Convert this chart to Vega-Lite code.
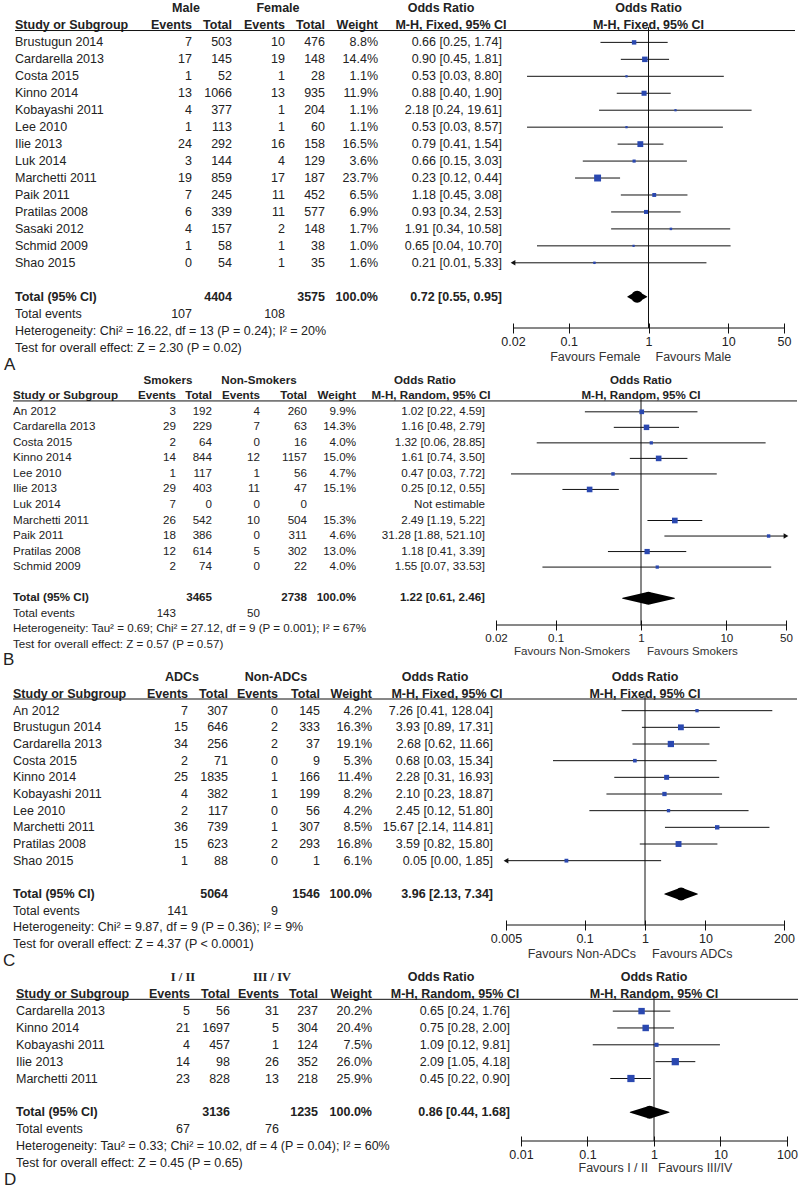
{
"$schema": "https://vega.github.io/schema/vega-lite/v6.json",
"padding": 0,
"background": "white",
"spacing": 0,
"config": {
  "view": {"stroke": null},
  "text": {"font": "Liberation Sans", "color": "#222", "baseline": "middle", "fontSize": 12.5},
  "axis": {"domainColor": "#111", "tickColor": "#111", "labelColor": "#222", "labelFont": "Liberation Sans", "tickSize": 10, "labelPadding": 2, "grid": false, "domainWidth": 1, "tickWidth": 1}
},
"datasets": {
  "A": [
    {"study":"Brustugun 2014","e1":7,"n1":503,"e2":10,"n2":476,"w":0.088,"ci":"0.66 [0.25, 1.74]","or":0.66,"lo":0.25,"hi":1.74,"part":"study"},
    {"study":"Cardarella 2013","e1":17,"n1":145,"e2":19,"n2":148,"w":0.144,"ci":"0.90 [0.45, 1.81]","or":0.9,"lo":0.45,"hi":1.81,"part":"study"},
    {"study":"Costa 2015","e1":1,"n1":52,"e2":1,"n2":28,"w":0.011,"ci":"0.53 [0.03, 8.80]","or":0.53,"lo":0.03,"hi":8.8,"part":"study"},
    {"study":"Kinno 2014","e1":13,"n1":1066,"e2":13,"n2":935,"w":0.119,"ci":"0.88 [0.40, 1.90]","or":0.88,"lo":0.4,"hi":1.9,"part":"study"},
    {"study":"Kobayashi 2011","e1":4,"n1":377,"e2":1,"n2":204,"w":0.011,"ci":"2.18 [0.24, 19.61]","or":2.18,"lo":0.24,"hi":19.61,"part":"study"},
    {"study":"Lee 2010","e1":1,"n1":113,"e2":1,"n2":60,"w":0.011,"ci":"0.53 [0.03, 8.57]","or":0.53,"lo":0.03,"hi":8.57,"part":"study"},
    {"study":"Ilie 2013","e1":24,"n1":292,"e2":16,"n2":158,"w":0.165,"ci":"0.79 [0.41, 1.54]","or":0.79,"lo":0.41,"hi":1.54,"part":"study"},
    {"study":"Luk 2014","e1":3,"n1":144,"e2":4,"n2":129,"w":0.036,"ci":"0.66 [0.15, 3.03]","or":0.66,"lo":0.15,"hi":3.03,"part":"study"},
    {"study":"Marchetti 2011","e1":19,"n1":859,"e2":17,"n2":187,"w":0.237,"ci":"0.23 [0.12, 0.44]","or":0.23,"lo":0.12,"hi":0.44,"part":"study"},
    {"study":"Paik 2011","e1":7,"n1":245,"e2":11,"n2":452,"w":0.065,"ci":"1.18 [0.45, 3.08]","or":1.18,"lo":0.45,"hi":3.08,"part":"study"},
    {"study":"Pratilas 2008","e1":6,"n1":339,"e2":11,"n2":577,"w":0.069,"ci":"0.93 [0.34, 2.53]","or":0.93,"lo":0.34,"hi":2.53,"part":"study"},
    {"study":"Sasaki 2012","e1":4,"n1":157,"e2":2,"n2":148,"w":0.017,"ci":"1.91 [0.34, 10.58]","or":1.91,"lo":0.34,"hi":10.58,"part":"study"},
    {"study":"Schmid 2009","e1":1,"n1":58,"e2":1,"n2":38,"w":0.01,"ci":"0.65 [0.04, 10.70]","or":0.65,"lo":0.04,"hi":10.7,"part":"study"},
    {"study":"Shao 2015","e1":0,"n1":54,"e2":1,"n2":35,"w":0.016,"ci":"0.21 [0.01, 5.33]","or":0.21,"lo":0.01,"hi":5.33,"part":"study"},
    {"study":"Total (95% CI)","n1":4404,"n2":3575,"w":1,"ci":"0.72 [0.55, 0.95]","or":0.72,"lo":0.55,"hi":0.95,"part":"total"},
    {"study":"Total events","e1":107,"e2":108,"part":"events"},
    {"study":"Heterogeneity: Chi² = 16.22, df = 13 (P = 0.24); I² = 20%","part":"note"},
    {"study":"Test for overall effect: Z = 2.30 (P = 0.02)","part":"note"}
  ],
  "B": [
    {"study":"An 2012","e1":3,"n1":192,"e2":4,"n2":260,"w":0.099,"ci":"1.02 [0.22, 4.59]","or":1.02,"lo":0.22,"hi":4.59,"part":"study"},
    {"study":"Cardarella 2013","e1":29,"n1":229,"e2":7,"n2":63,"w":0.143,"ci":"1.16 [0.48, 2.79]","or":1.16,"lo":0.48,"hi":2.79,"part":"study"},
    {"study":"Costa 2015","e1":2,"n1":64,"e2":0,"n2":16,"w":0.04,"ci":"1.32 [0.06, 28.85]","or":1.32,"lo":0.06,"hi":28.85,"part":"study"},
    {"study":"Kinno 2014","e1":14,"n1":844,"e2":12,"n2":1157,"w":0.15,"ci":"1.61 [0.74, 3.50]","or":1.61,"lo":0.74,"hi":3.5,"part":"study"},
    {"study":"Lee 2010","e1":1,"n1":117,"e2":1,"n2":56,"w":0.047,"ci":"0.47 [0.03, 7.72]","or":0.47,"lo":0.03,"hi":7.72,"part":"study"},
    {"study":"Ilie 2013","e1":29,"n1":403,"e2":11,"n2":47,"w":0.151,"ci":"0.25 [0.12, 0.55]","or":0.25,"lo":0.12,"hi":0.55,"part":"study"},
    {"study":"Luk 2014","e1":7,"n1":0,"e2":0,"n2":0,"ci":"Not estimable","part":"study"},
    {"study":"Marchetti 2011","e1":26,"n1":542,"e2":10,"n2":504,"w":0.153,"ci":"2.49 [1.19, 5.22]","or":2.49,"lo":1.19,"hi":5.22,"part":"study"},
    {"study":"Paik 2011","e1":18,"n1":386,"e2":0,"n2":311,"w":0.046,"ci":"31.28 [1.88, 521.10]","or":31.28,"lo":1.88,"hi":521.1,"part":"study"},
    {"study":"Pratilas 2008","e1":12,"n1":614,"e2":5,"n2":302,"w":0.13,"ci":"1.18 [0.41, 3.39]","or":1.18,"lo":0.41,"hi":3.39,"part":"study"},
    {"study":"Schmid 2009","e1":2,"n1":74,"e2":0,"n2":22,"w":0.04,"ci":"1.55 [0.07, 33.53]","or":1.55,"lo":0.07,"hi":33.53,"part":"study"},
    {"study":"Total (95% CI)","n1":3465,"n2":2738,"w":1,"ci":"1.22 [0.61, 2.46]","or":1.22,"lo":0.61,"hi":2.46,"part":"total"},
    {"study":"Total events","e1":143,"e2":50,"part":"events"},
    {"study":"Heterogeneity: Tau² = 0.69; Chi² = 27.12, df = 9 (P = 0.001); I² = 67%","part":"note"},
    {"study":"Test for overall effect: Z = 0.57 (P = 0.57)","part":"note"}
  ],
  "C": [
    {"study":"An 2012","e1":7,"n1":307,"e2":0,"n2":145,"w":0.042,"ci":"7.26 [0.41, 128.04]","or":7.26,"lo":0.41,"hi":128.04,"part":"study"},
    {"study":"Brustugun 2014","e1":15,"n1":646,"e2":2,"n2":333,"w":0.163,"ci":"3.93 [0.89, 17.31]","or":3.93,"lo":0.89,"hi":17.31,"part":"study"},
    {"study":"Cardarella 2013","e1":34,"n1":256,"e2":2,"n2":37,"w":0.191,"ci":"2.68 [0.62, 11.66]","or":2.68,"lo":0.62,"hi":11.66,"part":"study"},
    {"study":"Costa 2015","e1":2,"n1":71,"e2":0,"n2":9,"w":0.053,"ci":"0.68 [0.03, 15.34]","or":0.68,"lo":0.03,"hi":15.34,"part":"study"},
    {"study":"Kinno 2014","e1":25,"n1":1835,"e2":1,"n2":166,"w":0.114,"ci":"2.28 [0.31, 16.93]","or":2.28,"lo":0.31,"hi":16.93,"part":"study"},
    {"study":"Kobayashi 2011","e1":4,"n1":382,"e2":1,"n2":199,"w":0.082,"ci":"2.10 [0.23, 18.87]","or":2.1,"lo":0.23,"hi":18.87,"part":"study"},
    {"study":"Lee 2010","e1":2,"n1":117,"e2":0,"n2":56,"w":0.042,"ci":"2.45 [0.12, 51.80]","or":2.45,"lo":0.12,"hi":51.8,"part":"study"},
    {"study":"Marchetti 2011","e1":36,"n1":739,"e2":1,"n2":307,"w":0.085,"ci":"15.67 [2.14, 114.81]","or":15.67,"lo":2.14,"hi":114.81,"part":"study"},
    {"study":"Pratilas 2008","e1":15,"n1":623,"e2":2,"n2":293,"w":0.168,"ci":"3.59 [0.82, 15.80]","or":3.59,"lo":0.82,"hi":15.8,"part":"study"},
    {"study":"Shao 2015","e1":1,"n1":88,"e2":0,"n2":1,"w":0.061,"ci":"0.05 [0.00, 1.85]","or":0.05,"lo":0.002,"hi":1.85,"part":"study"},
    {"study":"Total (95% CI)","n1":5064,"n2":1546,"w":1,"ci":"3.96 [2.13, 7.34]","or":3.96,"lo":2.13,"hi":7.34,"part":"total"},
    {"study":"Total events","e1":141,"e2":9,"part":"events"},
    {"study":"Heterogeneity: Chi² = 9.87, df = 9 (P = 0.36); I² = 9%","part":"note"},
    {"study":"Test for overall effect: Z = 4.37 (P < 0.0001)","part":"note"}
  ],
  "D": [
    {"study":"Cardarella 2013","e1":5,"n1":56,"e2":31,"n2":237,"w":0.202,"ci":"0.65 [0.24, 1.76]","or":0.65,"lo":0.24,"hi":1.76,"part":"study"},
    {"study":"Kinno 2014","e1":21,"n1":1697,"e2":5,"n2":304,"w":0.204,"ci":"0.75 [0.28, 2.00]","or":0.75,"lo":0.28,"hi":2.0,"part":"study"},
    {"study":"Kobayashi 2011","e1":4,"n1":457,"e2":1,"n2":124,"w":0.075,"ci":"1.09 [0.12, 9.81]","or":1.09,"lo":0.12,"hi":9.81,"part":"study"},
    {"study":"Ilie 2013","e1":14,"n1":98,"e2":26,"n2":352,"w":0.26,"ci":"2.09 [1.05, 4.18]","or":2.09,"lo":1.05,"hi":4.18,"part":"study"},
    {"study":"Marchetti 2011","e1":23,"n1":828,"e2":13,"n2":218,"w":0.259,"ci":"0.45 [0.22, 0.90]","or":0.45,"lo":0.22,"hi":0.9,"part":"study"},
    {"study":"Total (95% CI)","n1":3136,"n2":1235,"w":1,"ci":"0.86 [0.44, 1.68]","or":0.86,"lo":0.44,"hi":1.68,"part":"total"},
    {"study":"Total events","e1":67,"e2":76,"part":"events"},
    {"study":"Heterogeneity: Tau² = 0.33; Chi² = 10.02, df = 4 (P = 0.04); I² = 60%","part":"note"},
    {"study":"Test for overall effect: Z = 0.45 (P = 0.65)","part":"note"}
  ]
},
"vconcat": [
{
 "hconcat": [
  {
   "width": 513, "height": 373,
   "data": {"name": "A"},
   "encoding": {"y": {"field": "study", "type": "nominal", "axis": null, "scale": {"type": "band", "round": false, "paddingInner": 0, "paddingOuter": 0, "domain": ["_grp","_hdr","Brustugun 2014","Cardarella 2013","Costa 2015","Kinno 2014","Kobayashi 2011","Lee 2010","Ilie 2013","Luk 2014","Marchetti 2011","Paik 2011","Pratilas 2008","Sasaki 2012","Schmid 2009","Shao 2015","_gap","Total (95% CI)","Total events","Heterogeneity: Chi² = 16.22, df = 13 (P = 0.24); I² = 20%","Test for overall effect: Z = 2.30 (P = 0.02)","_label"]}}},
   "layer": [
    {"mark": {"type": "text", "align": "left", "fontWeight": {"expr": "datum.part === 'total' ? 'bold' : 'normal'"}}, "encoding": {"x": {"datum": 15, "type": "quantitative", "axis": null, "scale": {"domain": [0, 513], "nice": false, "zero": false}}, "text": {"field": "study", "type": "nominal"}}},
    {"transform": [{"filter": "isValid(datum.e1)"}], "mark": {"type": "text", "align": "right"}, "encoding": {"x": {"datum": 192, "type": "quantitative", "axis": null}, "text": {"field": "e1", "type": "nominal"}}},
    {"transform": [{"filter": "isValid(datum.n1)"}], "mark": {"type": "text", "align": "right", "fontWeight": {"expr": "datum.part === 'total' ? 'bold' : 'normal'"}}, "encoding": {"x": {"datum": 232, "type": "quantitative", "axis": null}, "text": {"field": "n1", "type": "nominal"}}},
    {"transform": [{"filter": "isValid(datum.e2)"}], "mark": {"type": "text", "align": "right"}, "encoding": {"x": {"datum": 285, "type": "quantitative", "axis": null}, "text": {"field": "e2", "type": "nominal"}}},
    {"transform": [{"filter": "isValid(datum.n2)"}], "mark": {"type": "text", "align": "right", "fontWeight": {"expr": "datum.part === 'total' ? 'bold' : 'normal'"}}, "encoding": {"x": {"datum": 325, "type": "quantitative", "axis": null}, "text": {"field": "n2", "type": "nominal"}}},
    {"transform": [{"filter": "isValid(datum.w)"}], "mark": {"type": "text", "align": "right", "fontWeight": {"expr": "datum.part === 'total' ? 'bold' : 'normal'"}}, "encoding": {"x": {"datum": 378, "type": "quantitative", "axis": null}, "text": {"field": "w", "type": "quantitative", "format": ".1%"}}},
    {"transform": [{"filter": "isValid(datum.ci)"}], "mark": {"type": "text", "align": "right", "fontWeight": {"expr": "datum.part === 'total' ? 'bold' : 'normal'"}}, "encoding": {"x": {"datum": 502, "type": "quantitative", "axis": null}, "text": {"field": "ci", "type": "nominal"}}},
    {"data": {"values": [{}]}, "mark": {"type": "text", "align": "center", "fontWeight": "bold"}, "encoding": {"x": {"datum": 186, "type": "quantitative", "axis": null}, "y": {"datum": "_grp", "type": "nominal", "axis": null}, "text": {"value": "Male"}}},
    {"data": {"values": [{}]}, "mark": {"type": "text", "align": "center", "fontWeight": "bold"}, "encoding": {"x": {"datum": 278, "type": "quantitative", "axis": null}, "y": {"datum": "_grp", "type": "nominal", "axis": null}, "text": {"value": "Female"}}},
    {"data": {"values": [{}]}, "mark": {"type": "text", "align": "center", "fontWeight": "bold"}, "encoding": {"x": {"datum": 441, "type": "quantitative", "axis": null}, "y": {"datum": "_grp", "type": "nominal", "axis": null}, "text": {"value": "Odds Ratio"}}},
    {"data": {"values": [{}]}, "mark": {"type": "text", "align": "left", "fontWeight": "bold"}, "encoding": {"x": {"datum": 15, "type": "quantitative", "axis": null}, "y": {"datum": "_hdr", "type": "nominal", "axis": null}, "text": {"value": "Study or Subgroup"}}},
    {"data": {"values": [{}]}, "mark": {"type": "text", "align": "right", "fontWeight": "bold"}, "encoding": {"x": {"datum": 192, "type": "quantitative", "axis": null}, "y": {"datum": "_hdr", "type": "nominal", "axis": null}, "text": {"value": "Events"}}},
    {"data": {"values": [{}]}, "mark": {"type": "text", "align": "right", "fontWeight": "bold"}, "encoding": {"x": {"datum": 232, "type": "quantitative", "axis": null}, "y": {"datum": "_hdr", "type": "nominal", "axis": null}, "text": {"value": "Total"}}},
    {"data": {"values": [{}]}, "mark": {"type": "text", "align": "right", "fontWeight": "bold"}, "encoding": {"x": {"datum": 285, "type": "quantitative", "axis": null}, "y": {"datum": "_hdr", "type": "nominal", "axis": null}, "text": {"value": "Events"}}},
    {"data": {"values": [{}]}, "mark": {"type": "text", "align": "right", "fontWeight": "bold"}, "encoding": {"x": {"datum": 325, "type": "quantitative", "axis": null}, "y": {"datum": "_hdr", "type": "nominal", "axis": null}, "text": {"value": "Total"}}},
    {"data": {"values": [{}]}, "mark": {"type": "text", "align": "right", "fontWeight": "bold"}, "encoding": {"x": {"datum": 378, "type": "quantitative", "axis": null}, "y": {"datum": "_hdr", "type": "nominal", "axis": null}, "text": {"value": "Weight"}}},
    {"data": {"values": [{}]}, "mark": {"type": "text", "align": "center", "fontWeight": "bold"}, "encoding": {"x": {"datum": 451, "type": "quantitative", "axis": null}, "y": {"datum": "_hdr", "type": "nominal", "axis": null}, "text": {"value": "M-H, Fixed, 95% CI"}}},
    {"data": {"values": [{}]}, "mark": {"type": "rule", "color": "#111", "strokeWidth": 1}, "encoding": {"x": {"datum": 15, "type": "quantitative", "axis": null}, "x2": {"datum": 795}, "y": {"datum": "_hdr", "type": "nominal", "bandPosition": 0.8, "axis": null}}},
    {"data": {"values": [{}]}, "mark": {"type": "text", "align": "left", "fontSize": 17}, "encoding": {"x": {"datum": 4, "type": "quantitative", "axis": null}, "y": {"datum": "_label", "type": "nominal", "axis": null}, "text": {"value": "A"}}}
   ]
  },
  {
   "width": 271, "height": 328,
   "data": {"name": "A"},
   "transform": [{"filter": "datum.part === 'study' || datum.part === 'total'"}],
   "encoding": {"y": {"field": "study", "type": "nominal", "axis": null, "scale": {"type": "band", "round": false, "paddingInner": 0, "paddingOuter": 0.6725, "align": 0, "domain": ["_grp","_hdr","Brustugun 2014","Cardarella 2013","Costa 2015","Kinno 2014","Kobayashi 2011","Lee 2010","Ilie 2013","Luk 2014","Marchetti 2011","Paik 2011","Pratilas 2008","Sasaki 2012","Schmid 2009","Shao 2015","_gap","Total (95% CI)"]}}},
   "layer": [
    {"transform": [{"filter": "datum.part === 'study' && isValid(datum.lo)"}], "mark": {"type": "rule", "color": "#111"}, "encoding": {"x": {"field": "lo", "type": "quantitative", "scale": {"type": "log", "domain": [0.02, 50], "nice": false, "clamp": true}, "axis": {"values": [0.02, 0.1, 1, 10, 50], "format": "~g", "title": null, "orient": "bottom", "offset": -5, "domain": false, "labelFontSize": 12.5, "labelFlush": false, "labelOverlap": false}}, "x2": {"field": "hi"}}},
    {"data": {"values": [{}]}, "mark": {"type": "rule", "color": "#111"}, "encoding": {"x": {"datum": 0.02, "type": "quantitative", "scale": {"type": "log", "domain": [0.02, 50], "nice": false, "clamp": true}, "axis": {"title": null}}, "x2": {"datum": 50}, "y": {"value": "height"}}},
    {"data": {"values": [{}]}, "mark": {"type": "rule", "color": "#111"}, "encoding": {"x": {"datum": 1, "type": "quantitative", "scale": {"type": "log", "domain": [0.02, 50], "nice": false, "clamp": true}, "axis": {"title": null}}, "y": {"datum": "_hdr", "type": "nominal", "bandPosition": 0.6, "axis": null}, "y2": {"value": "height"}}},
    {"transform": [{"filter": "datum.part === 'study' && isValid(datum.or)"}], "mark": {"type": "point", "shape": "square", "filled": true, "color": "#2a48b0", "opacity": 1}, "encoding": {"x": {"field": "or", "type": "quantitative", "scale": {"type": "log", "domain": [0.02, 50], "nice": false, "clamp": true}, "axis": {"title": null}}, "size": {"field": "w", "type": "quantitative", "scale": {"domain": [0, 0.3], "range": [3, 60]}, "legend": null}}},
    {"transform": [{"filter": "datum.part === 'study' && datum.lo < 0.02"}], "mark": {"type": "point", "shape": "triangle-left", "filled": true, "color": "#111", "opacity": 1, "size": 30}, "encoding": {"x": {"field": "lo", "type": "quantitative", "scale": {"type": "log", "domain": [0.02, 50], "nice": false, "clamp": true}, "axis": {"title": null}}}},
    {"transform": [{"filter": "datum.part === 'total'"}, {"fold": ["lo", "or", "hi"], "as": ["k", "v"]}], "mark": {"type": "trail", "color": "#000"}, "encoding": {"x": {"field": "v", "type": "quantitative", "scale": {"type": "log", "domain": [0.02, 50], "nice": false, "clamp": true}, "axis": {"title": null}}, "size": {"field": "k", "type": "ordinal", "scale": {"type": "ordinal", "domain": ["lo", "or", "hi"], "range": [0, 12, 0]}, "legend": null}}},
    {"data": {"values": [{}]}, "mark": {"type": "text", "align": "center", "fontWeight": "bold"}, "encoding": {"x": {"datum": 1, "type": "quantitative", "scale": {"type": "log", "domain": [0.02, 50], "nice": false, "clamp": true}, "axis": {"title": null}}, "y": {"datum": "_grp", "type": "nominal", "axis": null}, "text": {"value": "Odds Ratio"}}},
    {"data": {"values": [{}]}, "mark": {"type": "text", "align": "center", "fontWeight": "bold"}, "encoding": {"x": {"datum": 1, "type": "quantitative", "scale": {"type": "log", "domain": [0.02, 50], "nice": false, "clamp": true}, "axis": {"title": null}}, "y": {"datum": "_hdr", "type": "nominal", "axis": null}, "text": {"value": "M-H, Fixed, 95% CI"}}},
    {"data": {"values": [{}]}, "mark": {"type": "text", "align": "right", "dx": -8, "dy": 29, "color": "#333"}, "encoding": {"x": {"datum": 1, "type": "quantitative", "scale": {"type": "log", "domain": [0.02, 50], "nice": false, "clamp": true}, "axis": {"title": null}}, "y": {"value": "height"}, "text": {"value": "Favours Female"}}},
    {"data": {"values": [{}]}, "mark": {"type": "text", "align": "left", "dx": 7, "dy": 29, "color": "#333"}, "encoding": {"x": {"datum": 1, "type": "quantitative", "scale": {"type": "log", "domain": [0.02, 50], "nice": false, "clamp": true}, "axis": {"title": null}}, "y": {"value": "height"}, "text": {"value": "Favours Male"}}}
   ]
  }
 ],
 "spacing": 0,
 "bounds": "flush"
},
{
 "hconcat": [
  {
   "width": 496, "height": 295,
   "data": {"name": "B"},
   "encoding": {"y": {"field": "study", "type": "nominal", "axis": null, "scale": {"type": "band", "round": false, "paddingInner": 0, "paddingOuter": 0, "domain": ["_grp","_hdr","An 2012","Cardarella 2013","Costa 2015","Kinno 2014","Lee 2010","Ilie 2013","Luk 2014","Marchetti 2011","Paik 2011","Pratilas 2008","Schmid 2009","_gap","Total (95% CI)","Total events","Heterogeneity: Tau² = 0.69; Chi² = 27.12, df = 9 (P = 0.001); I² = 67%","Test for overall effect: Z = 0.57 (P = 0.57)","_label"]}}},
   "layer": [
    {"mark": {"type": "text", "align": "left", "fontSize": 11.6, "fontWeight": {"expr": "datum.part === 'total' ? 'bold' : 'normal'"}}, "encoding": {"x": {"datum": 13, "type": "quantitative", "axis": null, "scale": {"domain": [0, 496], "nice": false, "zero": false}}, "text": {"field": "study", "type": "nominal"}}},
    {"transform": [{"filter": "isValid(datum.e1)"}], "mark": {"type": "text", "align": "right", "fontSize": 11.6}, "encoding": {"x": {"datum": 176, "type": "quantitative", "axis": null}, "text": {"field": "e1", "type": "nominal"}}},
    {"transform": [{"filter": "isValid(datum.n1)"}], "mark": {"type": "text", "align": "right", "fontSize": 11.6, "fontWeight": {"expr": "datum.part === 'total' ? 'bold' : 'normal'"}}, "encoding": {"x": {"datum": 212, "type": "quantitative", "axis": null}, "text": {"field": "n1", "type": "nominal"}}},
    {"transform": [{"filter": "isValid(datum.e2)"}], "mark": {"type": "text", "align": "right", "fontSize": 11.6}, "encoding": {"x": {"datum": 260, "type": "quantitative", "axis": null}, "text": {"field": "e2", "type": "nominal"}}},
    {"transform": [{"filter": "isValid(datum.n2)"}], "mark": {"type": "text", "align": "right", "fontSize": 11.6, "fontWeight": {"expr": "datum.part === 'total' ? 'bold' : 'normal'"}}, "encoding": {"x": {"datum": 307, "type": "quantitative", "axis": null}, "text": {"field": "n2", "type": "nominal"}}},
    {"transform": [{"filter": "isValid(datum.w)"}], "mark": {"type": "text", "align": "right", "fontSize": 11.6, "fontWeight": {"expr": "datum.part === 'total' ? 'bold' : 'normal'"}}, "encoding": {"x": {"datum": 356, "type": "quantitative", "axis": null}, "text": {"field": "w", "type": "quantitative", "format": ".1%"}}},
    {"transform": [{"filter": "isValid(datum.ci)"}], "mark": {"type": "text", "align": "right", "fontSize": 11.6, "fontWeight": {"expr": "datum.part === 'total' ? 'bold' : 'normal'"}}, "encoding": {"x": {"datum": 485, "type": "quantitative", "axis": null}, "text": {"field": "ci", "type": "nominal"}}},
    {"data": {"values": [{}]}, "mark": {"type": "text", "align": "center", "fontWeight": "bold", "fontSize": 11.6}, "encoding": {"x": {"datum": 168, "type": "quantitative", "axis": null}, "y": {"datum": "_grp", "type": "nominal", "axis": null}, "text": {"value": "Smokers"}}},
    {"data": {"values": [{}]}, "mark": {"type": "text", "align": "center", "fontWeight": "bold", "fontSize": 11.6}, "encoding": {"x": {"datum": 259, "type": "quantitative", "axis": null}, "y": {"datum": "_grp", "type": "nominal", "axis": null}, "text": {"value": "Non-Smokers"}}},
    {"data": {"values": [{}]}, "mark": {"type": "text", "align": "center", "fontWeight": "bold", "fontSize": 11.6}, "encoding": {"x": {"datum": 425, "type": "quantitative", "axis": null}, "y": {"datum": "_grp", "type": "nominal", "axis": null}, "text": {"value": "Odds Ratio"}}},
    {"data": {"values": [{}]}, "mark": {"type": "text", "align": "left", "fontWeight": "bold", "fontSize": 11.6}, "encoding": {"x": {"datum": 13, "type": "quantitative", "axis": null}, "y": {"datum": "_hdr", "type": "nominal", "axis": null}, "text": {"value": "Study or Subgroup"}}},
    {"data": {"values": [{}]}, "mark": {"type": "text", "align": "right", "fontWeight": "bold", "fontSize": 11.6}, "encoding": {"x": {"datum": 176, "type": "quantitative", "axis": null}, "y": {"datum": "_hdr", "type": "nominal", "axis": null}, "text": {"value": "Events"}}},
    {"data": {"values": [{}]}, "mark": {"type": "text", "align": "right", "fontWeight": "bold", "fontSize": 11.6}, "encoding": {"x": {"datum": 212, "type": "quantitative", "axis": null}, "y": {"datum": "_hdr", "type": "nominal", "axis": null}, "text": {"value": "Total"}}},
    {"data": {"values": [{}]}, "mark": {"type": "text", "align": "right", "fontWeight": "bold", "fontSize": 11.6}, "encoding": {"x": {"datum": 260, "type": "quantitative", "axis": null}, "y": {"datum": "_hdr", "type": "nominal", "axis": null}, "text": {"value": "Events"}}},
    {"data": {"values": [{}]}, "mark": {"type": "text", "align": "right", "fontWeight": "bold", "fontSize": 11.6}, "encoding": {"x": {"datum": 307, "type": "quantitative", "axis": null}, "y": {"datum": "_hdr", "type": "nominal", "axis": null}, "text": {"value": "Total"}}},
    {"data": {"values": [{}]}, "mark": {"type": "text", "align": "right", "fontWeight": "bold", "fontSize": 11.6}, "encoding": {"x": {"datum": 356, "type": "quantitative", "axis": null}, "y": {"datum": "_hdr", "type": "nominal", "axis": null}, "text": {"value": "Weight"}}},
    {"data": {"values": [{}]}, "mark": {"type": "text", "align": "center", "fontWeight": "bold", "fontSize": 11.6}, "encoding": {"x": {"datum": 431, "type": "quantitative", "axis": null}, "y": {"datum": "_hdr", "type": "nominal", "axis": null}, "text": {"value": "M-H, Random, 95% CI"}}},
    {"data": {"values": [{}]}, "mark": {"type": "rule", "color": "#111", "strokeWidth": 1}, "encoding": {"x": {"datum": 13, "type": "quantitative", "axis": null}, "x2": {"datum": 797}, "y": {"datum": "_hdr", "type": "nominal", "bandPosition": 0.8, "axis": null}}},
    {"data": {"values": [{}]}, "mark": {"type": "text", "align": "left", "fontSize": 17}, "encoding": {"x": {"datum": 3, "type": "quantitative", "axis": null}, "y": {"datum": "_label", "type": "nominal", "axis": null}, "text": {"value": "B"}}}
   ]
  },
  {
   "width": 290, "height": 252,
   "data": {"name": "B"},
   "transform": [{"filter": "datum.part === 'study' || datum.part === 'total'"}],
   "encoding": {"y": {"field": "study", "type": "nominal", "axis": null, "scale": {"type": "band", "round": false, "paddingInner": 0, "paddingOuter": 0.615, "align": 0, "domain": ["_grp","_hdr","An 2012","Cardarella 2013","Costa 2015","Kinno 2014","Lee 2010","Ilie 2013","Luk 2014","Marchetti 2011","Paik 2011","Pratilas 2008","Schmid 2009","_gap","Total (95% CI)"]}}},
   "layer": [
    {"transform": [{"filter": "datum.part === 'study' && isValid(datum.lo)"}], "mark": {"type": "rule", "color": "#111"}, "encoding": {"x": {"field": "lo", "type": "quantitative", "scale": {"type": "log", "domain": [0.02, 50], "nice": false, "clamp": true}, "axis": {"values": [0.02, 0.1, 1, 10, 50], "format": "~g", "title": null, "orient": "bottom", "offset": -5, "domain": false, "labelFontSize": 11.6, "labelFlush": false, "labelOverlap": false}}, "x2": {"field": "hi"}}},
    {"data": {"values": [{}]}, "mark": {"type": "rule", "color": "#111"}, "encoding": {"x": {"datum": 0.02, "type": "quantitative", "scale": {"type": "log", "domain": [0.02, 50], "nice": false, "clamp": true}, "axis": {"title": null}}, "x2": {"datum": 50}, "y": {"value": "height"}}},
    {"data": {"values": [{}]}, "mark": {"type": "rule", "color": "#111"}, "encoding": {"x": {"datum": 1, "type": "quantitative", "scale": {"type": "log", "domain": [0.02, 50], "nice": false, "clamp": true}, "axis": {"title": null}}, "y": {"datum": "_hdr", "type": "nominal", "bandPosition": 0.6, "axis": null}, "y2": {"value": "height"}}},
    {"transform": [{"filter": "datum.part === 'study' && isValid(datum.or)"}], "mark": {"type": "point", "shape": "square", "filled": true, "color": "#2a48b0", "opacity": 1}, "encoding": {"x": {"field": "or", "type": "quantitative", "scale": {"type": "log", "domain": [0.02, 50], "nice": false, "clamp": true}, "axis": {"title": null}}, "size": {"field": "w", "type": "quantitative", "scale": {"domain": [0, 0.3], "range": [3, 60]}, "legend": null}}},
    {"transform": [{"filter": "datum.part === 'study' && datum.hi > 50"}], "mark": {"type": "point", "shape": "triangle-right", "filled": true, "color": "#111", "opacity": 1, "size": 30}, "encoding": {"x": {"field": "hi", "type": "quantitative", "scale": {"type": "log", "domain": [0.02, 50], "nice": false, "clamp": true}, "axis": {"title": null}}}},
    {"transform": [{"filter": "datum.part === 'total'"}, {"fold": ["lo", "or", "hi"], "as": ["k", "v"]}], "mark": {"type": "trail", "color": "#000"}, "encoding": {"x": {"field": "v", "type": "quantitative", "scale": {"type": "log", "domain": [0.02, 50], "nice": false, "clamp": true}, "axis": {"title": null}}, "size": {"field": "k", "type": "ordinal", "scale": {"type": "ordinal", "domain": ["lo", "or", "hi"], "range": [0, 13, 0]}, "legend": null}}},
    {"data": {"values": [{}]}, "mark": {"type": "text", "align": "center", "fontWeight": "bold", "fontSize": 11.6}, "encoding": {"x": {"datum": 1, "type": "quantitative", "scale": {"type": "log", "domain": [0.02, 50], "nice": false, "clamp": true}, "axis": {"title": null}}, "y": {"datum": "_grp", "type": "nominal", "axis": null}, "text": {"value": "Odds Ratio"}}},
    {"data": {"values": [{}]}, "mark": {"type": "text", "align": "center", "fontWeight": "bold", "fontSize": 11.6}, "encoding": {"x": {"datum": 1, "type": "quantitative", "scale": {"type": "log", "domain": [0.02, 50], "nice": false, "clamp": true}, "axis": {"title": null}}, "y": {"datum": "_hdr", "type": "nominal", "axis": null}, "text": {"value": "M-H, Random, 95% CI"}}},
    {"data": {"values": [{}]}, "mark": {"type": "text", "align": "right", "dx": -11, "dy": 27, "color": "#333", "fontSize": 11.6}, "encoding": {"x": {"datum": 1, "type": "quantitative", "scale": {"type": "log", "domain": [0.02, 50], "nice": false, "clamp": true}, "axis": {"title": null}}, "y": {"value": "height"}, "text": {"value": "Favours Non-Smokers"}}},
    {"data": {"values": [{}]}, "mark": {"type": "text", "align": "left", "dx": 6, "dy": 27, "color": "#333", "fontSize": 11.6}, "encoding": {"x": {"datum": 1, "type": "quantitative", "scale": {"type": "log", "domain": [0.02, 50], "nice": false, "clamp": true}, "axis": {"title": null}}, "y": {"value": "height"}, "text": {"value": "Favours Smokers"}}}
   ]
  }
 ],
 "spacing": 0,
 "bounds": "flush"
},
{
 "hconcat": [
  {
   "width": 506, "height": 300,
   "data": {"name": "C"},
   "encoding": {"y": {"field": "study", "type": "nominal", "axis": null, "scale": {"type": "band", "round": false, "paddingInner": 0, "paddingOuter": 0, "domain": ["_grp","_hdr","An 2012","Brustugun 2014","Cardarella 2013","Costa 2015","Kinno 2014","Kobayashi 2011","Lee 2010","Marchetti 2011","Pratilas 2008","Shao 2015","_gap","Total (95% CI)","Total events","Heterogeneity: Chi² = 9.87, df = 9 (P = 0.36); I² = 9%","Test for overall effect: Z = 4.37 (P < 0.0001)","_label"]}}},
   "layer": [
    {"mark": {"type": "text", "align": "left", "fontWeight": {"expr": "datum.part === 'total' ? 'bold' : 'normal'"}}, "encoding": {"x": {"datum": 13, "type": "quantitative", "axis": null, "scale": {"domain": [0, 506], "nice": false, "zero": false}}, "text": {"field": "study", "type": "nominal"}}},
    {"transform": [{"filter": "isValid(datum.e1)"}], "mark": {"type": "text", "align": "right"}, "encoding": {"x": {"datum": 188, "type": "quantitative", "axis": null}, "text": {"field": "e1", "type": "nominal"}}},
    {"transform": [{"filter": "isValid(datum.n1)"}], "mark": {"type": "text", "align": "right", "fontWeight": {"expr": "datum.part === 'total' ? 'bold' : 'normal'"}}, "encoding": {"x": {"datum": 228, "type": "quantitative", "axis": null}, "text": {"field": "n1", "type": "nominal"}}},
    {"transform": [{"filter": "isValid(datum.e2)"}], "mark": {"type": "text", "align": "right"}, "encoding": {"x": {"datum": 278, "type": "quantitative", "axis": null}, "text": {"field": "e2", "type": "nominal"}}},
    {"transform": [{"filter": "isValid(datum.n2)"}], "mark": {"type": "text", "align": "right", "fontWeight": {"expr": "datum.part === 'total' ? 'bold' : 'normal'"}}, "encoding": {"x": {"datum": 320, "type": "quantitative", "axis": null}, "text": {"field": "n2", "type": "nominal"}}},
    {"transform": [{"filter": "isValid(datum.w)"}], "mark": {"type": "text", "align": "right", "fontWeight": {"expr": "datum.part === 'total' ? 'bold' : 'normal'"}}, "encoding": {"x": {"datum": 372, "type": "quantitative", "axis": null}, "text": {"field": "w", "type": "quantitative", "format": ".1%"}}},
    {"transform": [{"filter": "isValid(datum.ci)"}], "mark": {"type": "text", "align": "right", "fontWeight": {"expr": "datum.part === 'total' ? 'bold' : 'normal'"}}, "encoding": {"x": {"datum": 493, "type": "quantitative", "axis": null}, "text": {"field": "ci", "type": "nominal"}}},
    {"data": {"values": [{}]}, "mark": {"type": "text", "align": "center", "fontWeight": "bold"}, "encoding": {"x": {"datum": 182, "type": "quantitative", "axis": null}, "y": {"datum": "_grp", "type": "nominal", "axis": null}, "text": {"value": "ADCs"}}},
    {"data": {"values": [{}]}, "mark": {"type": "text", "align": "center", "fontWeight": "bold"}, "encoding": {"x": {"datum": 276, "type": "quantitative", "axis": null}, "y": {"datum": "_grp", "type": "nominal", "axis": null}, "text": {"value": "Non-ADCs"}}},
    {"data": {"values": [{}]}, "mark": {"type": "text", "align": "center", "fontWeight": "bold"}, "encoding": {"x": {"datum": 435, "type": "quantitative", "axis": null}, "y": {"datum": "_grp", "type": "nominal", "axis": null}, "text": {"value": "Odds Ratio"}}},
    {"data": {"values": [{}]}, "mark": {"type": "text", "align": "left", "fontWeight": "bold"}, "encoding": {"x": {"datum": 13, "type": "quantitative", "axis": null}, "y": {"datum": "_hdr", "type": "nominal", "axis": null}, "text": {"value": "Study or Subgroup"}}},
    {"data": {"values": [{}]}, "mark": {"type": "text", "align": "right", "fontWeight": "bold"}, "encoding": {"x": {"datum": 188, "type": "quantitative", "axis": null}, "y": {"datum": "_hdr", "type": "nominal", "axis": null}, "text": {"value": "Events"}}},
    {"data": {"values": [{}]}, "mark": {"type": "text", "align": "right", "fontWeight": "bold"}, "encoding": {"x": {"datum": 228, "type": "quantitative", "axis": null}, "y": {"datum": "_hdr", "type": "nominal", "axis": null}, "text": {"value": "Total"}}},
    {"data": {"values": [{}]}, "mark": {"type": "text", "align": "right", "fontWeight": "bold"}, "encoding": {"x": {"datum": 278, "type": "quantitative", "axis": null}, "y": {"datum": "_hdr", "type": "nominal", "axis": null}, "text": {"value": "Events"}}},
    {"data": {"values": [{}]}, "mark": {"type": "text", "align": "right", "fontWeight": "bold"}, "encoding": {"x": {"datum": 320, "type": "quantitative", "axis": null}, "y": {"datum": "_hdr", "type": "nominal", "axis": null}, "text": {"value": "Total"}}},
    {"data": {"values": [{}]}, "mark": {"type": "text", "align": "right", "fontWeight": "bold"}, "encoding": {"x": {"datum": 372, "type": "quantitative", "axis": null}, "y": {"datum": "_hdr", "type": "nominal", "axis": null}, "text": {"value": "Weight"}}},
    {"data": {"values": [{}]}, "mark": {"type": "text", "align": "center", "fontWeight": "bold"}, "encoding": {"x": {"datum": 447, "type": "quantitative", "axis": null}, "y": {"datum": "_hdr", "type": "nominal", "axis": null}, "text": {"value": "M-H, Fixed, 95% CI"}}},
    {"data": {"values": [{}]}, "mark": {"type": "rule", "color": "#111", "strokeWidth": 1}, "encoding": {"x": {"datum": 13, "type": "quantitative", "axis": null}, "x2": {"datum": 797}, "y": {"datum": "_hdr", "type": "nominal", "bandPosition": 0.8, "axis": null}}},
    {"data": {"values": [{}]}, "mark": {"type": "text", "align": "left", "fontSize": 17}, "encoding": {"x": {"datum": 3, "type": "quantitative", "axis": null}, "y": {"datum": "_label", "type": "nominal", "axis": null}, "text": {"value": "C"}}}
   ]
  },
  {
   "width": 278, "height": 256,
   "data": {"name": "C"},
   "transform": [{"filter": "datum.part === 'study' || datum.part === 'total'"}],
   "encoding": {"y": {"field": "study", "type": "nominal", "axis": null, "scale": {"type": "band", "round": false, "paddingInner": 0, "paddingOuter": 0.68, "align": 0, "domain": ["_grp","_hdr","An 2012","Brustugun 2014","Cardarella 2013","Costa 2015","Kinno 2014","Kobayashi 2011","Lee 2010","Marchetti 2011","Pratilas 2008","Shao 2015","_gap","Total (95% CI)"]}}},
   "layer": [
    {"transform": [{"filter": "datum.part === 'study' && isValid(datum.lo)"}], "mark": {"type": "rule", "color": "#111"}, "encoding": {"x": {"field": "lo", "type": "quantitative", "scale": {"type": "log", "domain": [0.005, 200], "nice": false, "clamp": true}, "axis": {"values": [0.005, 0.1, 1, 10, 200], "format": "~g", "title": null, "orient": "bottom", "offset": -5, "domain": false, "labelFontSize": 12.5, "labelFlush": false, "labelOverlap": false}}, "x2": {"field": "hi"}}},
    {"data": {"values": [{}]}, "mark": {"type": "rule", "color": "#111"}, "encoding": {"x": {"datum": 0.005, "type": "quantitative", "scale": {"type": "log", "domain": [0.005, 200], "nice": false, "clamp": true}, "axis": {"title": null}}, "x2": {"datum": 200}, "y": {"value": "height"}}},
    {"data": {"values": [{}]}, "mark": {"type": "rule", "color": "#111"}, "encoding": {"x": {"datum": 1, "type": "quantitative", "scale": {"type": "log", "domain": [0.005, 200], "nice": false, "clamp": true}, "axis": {"title": null}}, "y": {"datum": "_hdr", "type": "nominal", "bandPosition": 0.6, "axis": null}, "y2": {"value": "height"}}},
    {"transform": [{"filter": "datum.part === 'study' && isValid(datum.or)"}], "mark": {"type": "point", "shape": "square", "filled": true, "color": "#2a48b0", "opacity": 1}, "encoding": {"x": {"field": "or", "type": "quantitative", "scale": {"type": "log", "domain": [0.005, 200], "nice": false, "clamp": true}, "axis": {"title": null}}, "size": {"field": "w", "type": "quantitative", "scale": {"domain": [0, 0.3], "range": [3, 60]}, "legend": null}}},
    {"transform": [{"filter": "datum.part === 'study' && datum.lo < 0.005"}], "mark": {"type": "point", "shape": "triangle-left", "filled": true, "color": "#111", "opacity": 1, "size": 30}, "encoding": {"x": {"field": "lo", "type": "quantitative", "scale": {"type": "log", "domain": [0.005, 200], "nice": false, "clamp": true}, "axis": {"title": null}}}},
    {"transform": [{"filter": "datum.part === 'total'"}, {"fold": ["lo", "or", "hi"], "as": ["k", "v"]}], "mark": {"type": "trail", "color": "#000"}, "encoding": {"x": {"field": "v", "type": "quantitative", "scale": {"type": "log", "domain": [0.005, 200], "nice": false, "clamp": true}, "axis": {"title": null}}, "size": {"field": "k", "type": "ordinal", "scale": {"type": "ordinal", "domain": ["lo", "or", "hi"], "range": [0, 13, 0]}, "legend": null}}},
    {"data": {"values": [{}]}, "mark": {"type": "text", "align": "center", "fontWeight": "bold"}, "encoding": {"x": {"datum": 1, "type": "quantitative", "scale": {"type": "log", "domain": [0.005, 200], "nice": false, "clamp": true}, "axis": {"title": null}}, "y": {"datum": "_grp", "type": "nominal", "axis": null}, "text": {"value": "Odds Ratio"}}},
    {"data": {"values": [{}]}, "mark": {"type": "text", "align": "center", "fontWeight": "bold"}, "encoding": {"x": {"datum": 1, "type": "quantitative", "scale": {"type": "log", "domain": [0.005, 200], "nice": false, "clamp": true}, "axis": {"title": null}}, "y": {"datum": "_hdr", "type": "nominal", "axis": null}, "text": {"value": "M-H, Fixed, 95% CI"}}},
    {"data": {"values": [{}]}, "mark": {"type": "text", "align": "right", "dx": -9, "dy": 29, "color": "#333"}, "encoding": {"x": {"datum": 1, "type": "quantitative", "scale": {"type": "log", "domain": [0.005, 200], "nice": false, "clamp": true}, "axis": {"title": null}}, "y": {"value": "height"}, "text": {"value": "Favours Non-ADCs"}}},
    {"data": {"values": [{}]}, "mark": {"type": "text", "align": "left", "dx": 7, "dy": 29, "color": "#333"}, "encoding": {"x": {"datum": 1, "type": "quantitative", "scale": {"type": "log", "domain": [0.005, 200], "nice": false, "clamp": true}, "axis": {"title": null}}, "y": {"value": "height"}, "text": {"value": "Favours ADCs"}}}
   ]
  }
 ],
 "spacing": 0,
 "bounds": "flush"
},
{
 "hconcat": [
  {
   "width": 521, "height": 219,
   "data": {"name": "D"},
   "encoding": {"y": {"field": "study", "type": "nominal", "axis": null, "scale": {"type": "band", "round": false, "paddingInner": 0, "paddingOuter": 0, "domain": ["_grp","_hdr","Cardarella 2013","Kinno 2014","Kobayashi 2011","Ilie 2013","Marchetti 2011","_gap","Total (95% CI)","Total events","Heterogeneity: Tau² = 0.33; Chi² = 10.02, df = 4 (P = 0.04); I² = 60%","Test for overall effect: Z = 0.45 (P = 0.65)","_label"]}}},
   "layer": [
    {"mark": {"type": "text", "align": "left", "fontWeight": {"expr": "datum.part === 'total' ? 'bold' : 'normal'"}}, "encoding": {"x": {"datum": 16, "type": "quantitative", "axis": null, "scale": {"domain": [0, 521], "nice": false, "zero": false}}, "text": {"field": "study", "type": "nominal"}}},
    {"transform": [{"filter": "isValid(datum.e1)"}], "mark": {"type": "text", "align": "right"}, "encoding": {"x": {"datum": 190, "type": "quantitative", "axis": null}, "text": {"field": "e1", "type": "nominal"}}},
    {"transform": [{"filter": "isValid(datum.n1)"}], "mark": {"type": "text", "align": "right", "fontWeight": {"expr": "datum.part === 'total' ? 'bold' : 'normal'"}}, "encoding": {"x": {"datum": 230, "type": "quantitative", "axis": null}, "text": {"field": "n1", "type": "nominal"}}},
    {"transform": [{"filter": "isValid(datum.e2)"}], "mark": {"type": "text", "align": "right"}, "encoding": {"x": {"datum": 279, "type": "quantitative", "axis": null}, "text": {"field": "e2", "type": "nominal"}}},
    {"transform": [{"filter": "isValid(datum.n2)"}], "mark": {"type": "text", "align": "right", "fontWeight": {"expr": "datum.part === 'total' ? 'bold' : 'normal'"}}, "encoding": {"x": {"datum": 318, "type": "quantitative", "axis": null}, "text": {"field": "n2", "type": "nominal"}}},
    {"transform": [{"filter": "isValid(datum.w)"}], "mark": {"type": "text", "align": "right", "fontWeight": {"expr": "datum.part === 'total' ? 'bold' : 'normal'"}}, "encoding": {"x": {"datum": 372, "type": "quantitative", "axis": null}, "text": {"field": "w", "type": "quantitative", "format": ".1%"}}},
    {"transform": [{"filter": "isValid(datum.ci)"}], "mark": {"type": "text", "align": "right", "fontWeight": {"expr": "datum.part === 'total' ? 'bold' : 'normal'"}}, "encoding": {"x": {"datum": 510, "type": "quantitative", "axis": null}, "text": {"field": "ci", "type": "nominal"}}},
    {"data": {"values": [{}]}, "mark": {"type": "text", "align": "center", "fontWeight": "bold", "font": "Liberation Serif"}, "encoding": {"x": {"datum": 183, "type": "quantitative", "axis": null}, "y": {"datum": "_grp", "type": "nominal", "axis": null}, "text": {"value": "I / II"}}},
    {"data": {"values": [{}]}, "mark": {"type": "text", "align": "center", "fontWeight": "bold", "font": "Liberation Serif"}, "encoding": {"x": {"datum": 272, "type": "quantitative", "axis": null}, "y": {"datum": "_grp", "type": "nominal", "axis": null}, "text": {"value": "III / IV"}}},
    {"data": {"values": [{}]}, "mark": {"type": "text", "align": "center", "fontWeight": "bold"}, "encoding": {"x": {"datum": 441, "type": "quantitative", "axis": null}, "y": {"datum": "_grp", "type": "nominal", "axis": null}, "text": {"value": "Odds Ratio"}}},
    {"data": {"values": [{}]}, "mark": {"type": "text", "align": "left", "fontWeight": "bold"}, "encoding": {"x": {"datum": 16, "type": "quantitative", "axis": null}, "y": {"datum": "_hdr", "type": "nominal", "axis": null}, "text": {"value": "Study or Subgroup"}}},
    {"data": {"values": [{}]}, "mark": {"type": "text", "align": "right", "fontWeight": "bold"}, "encoding": {"x": {"datum": 190, "type": "quantitative", "axis": null}, "y": {"datum": "_hdr", "type": "nominal", "axis": null}, "text": {"value": "Events"}}},
    {"data": {"values": [{}]}, "mark": {"type": "text", "align": "right", "fontWeight": "bold"}, "encoding": {"x": {"datum": 230, "type": "quantitative", "axis": null}, "y": {"datum": "_hdr", "type": "nominal", "axis": null}, "text": {"value": "Total"}}},
    {"data": {"values": [{}]}, "mark": {"type": "text", "align": "right", "fontWeight": "bold"}, "encoding": {"x": {"datum": 279, "type": "quantitative", "axis": null}, "y": {"datum": "_hdr", "type": "nominal", "axis": null}, "text": {"value": "Events"}}},
    {"data": {"values": [{}]}, "mark": {"type": "text", "align": "right", "fontWeight": "bold"}, "encoding": {"x": {"datum": 318, "type": "quantitative", "axis": null}, "y": {"datum": "_hdr", "type": "nominal", "axis": null}, "text": {"value": "Total"}}},
    {"data": {"values": [{}]}, "mark": {"type": "text", "align": "right", "fontWeight": "bold"}, "encoding": {"x": {"datum": 372, "type": "quantitative", "axis": null}, "y": {"datum": "_hdr", "type": "nominal", "axis": null}, "text": {"value": "Weight"}}},
    {"data": {"values": [{}]}, "mark": {"type": "text", "align": "center", "fontWeight": "bold"}, "encoding": {"x": {"datum": 455, "type": "quantitative", "axis": null}, "y": {"datum": "_hdr", "type": "nominal", "axis": null}, "text": {"value": "M-H, Random, 95% CI"}}},
    {"data": {"values": [{}]}, "mark": {"type": "rule", "color": "#111", "strokeWidth": 1}, "encoding": {"x": {"datum": 16, "type": "quantitative", "axis": null}, "x2": {"datum": 798}, "y": {"datum": "_hdr", "type": "nominal", "bandPosition": 0.8, "axis": null}}},
    {"data": {"values": [{}]}, "mark": {"type": "text", "align": "left", "fontSize": 17}, "encoding": {"x": {"datum": 4, "type": "quantitative", "axis": null}, "y": {"datum": "_label", "type": "nominal", "axis": null}, "text": {"value": "D"}}}
   ]
  },
  {
   "width": 266, "height": 172,
   "data": {"name": "D"},
   "transform": [{"filter": "datum.part === 'study' || datum.part === 'total'"}],
   "encoding": {"y": {"field": "study", "type": "nominal", "axis": null, "scale": {"type": "band", "round": false, "paddingInner": 0, "paddingOuter": 0.605, "align": 0, "domain": ["_grp","_hdr","Cardarella 2013","Kinno 2014","Kobayashi 2011","Ilie 2013","Marchetti 2011","_gap","Total (95% CI)"]}}},
   "layer": [
    {"transform": [{"filter": "datum.part === 'study' && isValid(datum.lo)"}], "mark": {"type": "rule", "color": "#111"}, "encoding": {"x": {"field": "lo", "type": "quantitative", "scale": {"type": "log", "domain": [0.01, 100], "nice": false, "clamp": true}, "axis": {"values": [0.01, 0.1, 1, 10, 100], "format": "~g", "title": null, "orient": "bottom", "offset": -5, "domain": false, "labelFontSize": 12.5, "labelFlush": false, "labelOverlap": false}}, "x2": {"field": "hi"}}},
    {"data": {"values": [{}]}, "mark": {"type": "rule", "color": "#111"}, "encoding": {"x": {"datum": 0.01, "type": "quantitative", "scale": {"type": "log", "domain": [0.01, 100], "nice": false, "clamp": true}, "axis": {"title": null}}, "x2": {"datum": 100}, "y": {"value": "height"}}},
    {"data": {"values": [{}]}, "mark": {"type": "rule", "color": "#111"}, "encoding": {"x": {"datum": 1, "type": "quantitative", "scale": {"type": "log", "domain": [0.01, 100], "nice": false, "clamp": true}, "axis": {"title": null}}, "y": {"datum": "_hdr", "type": "nominal", "bandPosition": 0.6, "axis": null}, "y2": {"value": "height"}}},
    {"transform": [{"filter": "datum.part === 'study' && isValid(datum.or)"}], "mark": {"type": "point", "shape": "square", "filled": true, "color": "#2a48b0", "opacity": 1}, "encoding": {"x": {"field": "or", "type": "quantitative", "scale": {"type": "log", "domain": [0.01, 100], "nice": false, "clamp": true}, "axis": {"title": null}}, "size": {"field": "w", "type": "quantitative", "scale": {"domain": [0, 0.3], "range": [3, 60]}, "legend": null}}},
    {"transform": [{"filter": "datum.part === 'total'"}, {"fold": ["lo", "or", "hi"], "as": ["k", "v"]}], "mark": {"type": "trail", "color": "#000"}, "encoding": {"x": {"field": "v", "type": "quantitative", "scale": {"type": "log", "domain": [0.01, 100], "nice": false, "clamp": true}, "axis": {"title": null}}, "size": {"field": "k", "type": "ordinal", "scale": {"type": "ordinal", "domain": ["lo", "or", "hi"], "range": [0, 13, 0]}, "legend": null}}},
    {"data": {"values": [{}]}, "mark": {"type": "text", "align": "center", "fontWeight": "bold"}, "encoding": {"x": {"datum": 1, "type": "quantitative", "scale": {"type": "log", "domain": [0.01, 100], "nice": false, "clamp": true}, "axis": {"title": null}}, "y": {"datum": "_grp", "type": "nominal", "axis": null}, "text": {"value": "Odds Ratio"}}},
    {"data": {"values": [{}]}, "mark": {"type": "text", "align": "center", "fontWeight": "bold"}, "encoding": {"x": {"datum": 1, "type": "quantitative", "scale": {"type": "log", "domain": [0.01, 100], "nice": false, "clamp": true}, "axis": {"title": null}}, "y": {"datum": "_hdr", "type": "nominal", "axis": null}, "text": {"value": "M-H, Random, 95% CI"}}},
    {"data": {"values": [{}]}, "mark": {"type": "text", "align": "right", "dx": -6, "dy": 27, "color": "#333"}, "encoding": {"x": {"datum": 1, "type": "quantitative", "scale": {"type": "log", "domain": [0.01, 100], "nice": false, "clamp": true}, "axis": {"title": null}}, "y": {"value": "height"}, "text": {"value": "Favours I / II"}}},
    {"data": {"values": [{}]}, "mark": {"type": "text", "align": "left", "dx": 4, "dy": 27, "color": "#333"}, "encoding": {"x": {"datum": 1, "type": "quantitative", "scale": {"type": "log", "domain": [0.01, 100], "nice": false, "clamp": true}, "axis": {"title": null}}, "y": {"value": "height"}, "text": {"value": "Favours III/IV"}}}
   ]
  }
 ],
 "spacing": 0,
 "bounds": "flush"
}
]
}
